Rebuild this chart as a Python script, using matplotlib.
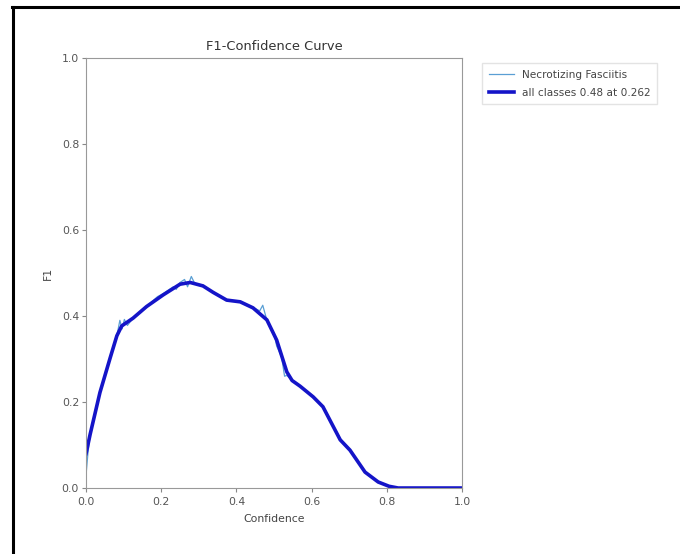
import matplotlib
matplotlib.use('Agg')
import matplotlib.pyplot as plt
from matplotlib.lines import Line2D

plt.rcParams['font.family'] = ['DejaVu Sans']

## Data
# mean curve (all classes)
conf_all = [0.0, 0.011, 0.037, 0.064, 0.082, 0.095, 0.125, 0.161, 0.205, 0.25,
            0.277, 0.311, 0.338, 0.374, 0.41, 0.444, 0.481, 0.507, 0.534, 0.548,
            0.569, 0.604, 0.63, 0.676, 0.702, 0.742, 0.777, 0.806, 0.83, 1.0]
f1_all = [0.08, 0.125, 0.222, 0.302, 0.354, 0.377, 0.395, 0.422, 0.449, 0.474,
          0.478, 0.47, 0.455, 0.437, 0.433, 0.419, 0.391, 0.344, 0.27, 0.25,
          0.237, 0.212, 0.189, 0.112, 0.088, 0.037, 0.014, 0.004, 0.0, 0.0]

# single class curve (thin, noisier)
conf_cls = [0.0, 0.005, 0.011, 0.037, 0.064, 0.082, 0.09, 0.096, 0.102, 0.11,
            0.125, 0.161, 0.19, 0.205, 0.232, 0.24, 0.25, 0.262, 0.27, 0.28,
            0.29, 0.311, 0.338, 0.374, 0.41, 0.444, 0.462, 0.47, 0.481, 0.5,
            0.507, 0.52, 0.528, 0.534, 0.548, 0.569, 0.604, 0.63, 0.676, 0.69,
            0.702, 0.742, 0.777, 0.806, 0.83, 1.0]
f1_cls = [0.03, 0.08, 0.125, 0.222, 0.302, 0.354, 0.39, 0.37, 0.392, 0.378,
          0.395, 0.422, 0.445, 0.452, 0.468, 0.462, 0.478, 0.485, 0.468, 0.492,
          0.474, 0.472, 0.455, 0.437, 0.433, 0.42, 0.412, 0.425, 0.39, 0.36,
          0.33, 0.305, 0.26, 0.262, 0.25, 0.237, 0.212, 0.189, 0.115, 0.1,
          0.09, 0.037, 0.014, 0.004, 0.0, 0.0]

cls_name = 'Necrotizing Fasciitis'
all_label = 'all classes 0.48 at 0.262'
xticks = [0.0, 0.2, 0.4, 0.6, 0.8, 1.0]
yticks = [0.0, 0.2, 0.4, 0.6, 0.8, 1.0]

## Set up chart
fig = plt.figure(figsize=(6.8, 5.54), dpi=100)
ax = fig.add_axes([0.1265, 0.1191, 0.553, 0.7762])

ax.plot(conf_cls, f1_cls, linewidth=0.9, color='#5a9fd4', label=cls_name)
ax.plot(conf_all, f1_all, linewidth=2.6, color='#1414c8', label=all_label)

ax.set_xlim(0, 1)
ax.set_ylim(0, 1)
ax.set_xticks(xticks)
ax.set_yticks(yticks)
ax.set_xticklabels([f'{t:.1f}' for t in xticks])
ax.set_yticklabels([f'{t:.1f}' for t in yticks])
ax.tick_params(labelsize=7.8, colors='#888888', labelcolor='#555555', length=3)
ax.tick_params(axis='y', pad=2)
for s in ax.spines.values():
    s.set_color('#999999')

ax.set_xlabel('Confidence', fontsize=7.8, color='#444444', labelpad=5)
ax.set_ylabel('F1', fontsize=7.8, color='#444444', labelpad=6)
ax.set_title('F1-Confidence Curve', fontsize=9.4, color='#333333', pad=6)

leg = ax.legend(bbox_to_anchor=(1.04, 1), loc='upper left', fontsize=7.6,
                frameon=True, fancybox=False, handlelength=2.4,
                labelspacing=0.8, borderpad=0.6)
leg.get_frame().set_edgecolor('#dddddd')
for t in leg.get_texts():
    t.set_color('#444444')

# black border of the screenshot (top and left edges)
fig.add_artist(Line2D([0.018, 1.0], [0.988, 0.988], color='black', linewidth=2.2,
                      transform=fig.transFigure))
fig.add_artist(Line2D([0.019, 0.019], [0.0, 0.988], color='black', linewidth=2.2,
                      transform=fig.transFigure))

fig.savefig('out.png', dpi=100)
